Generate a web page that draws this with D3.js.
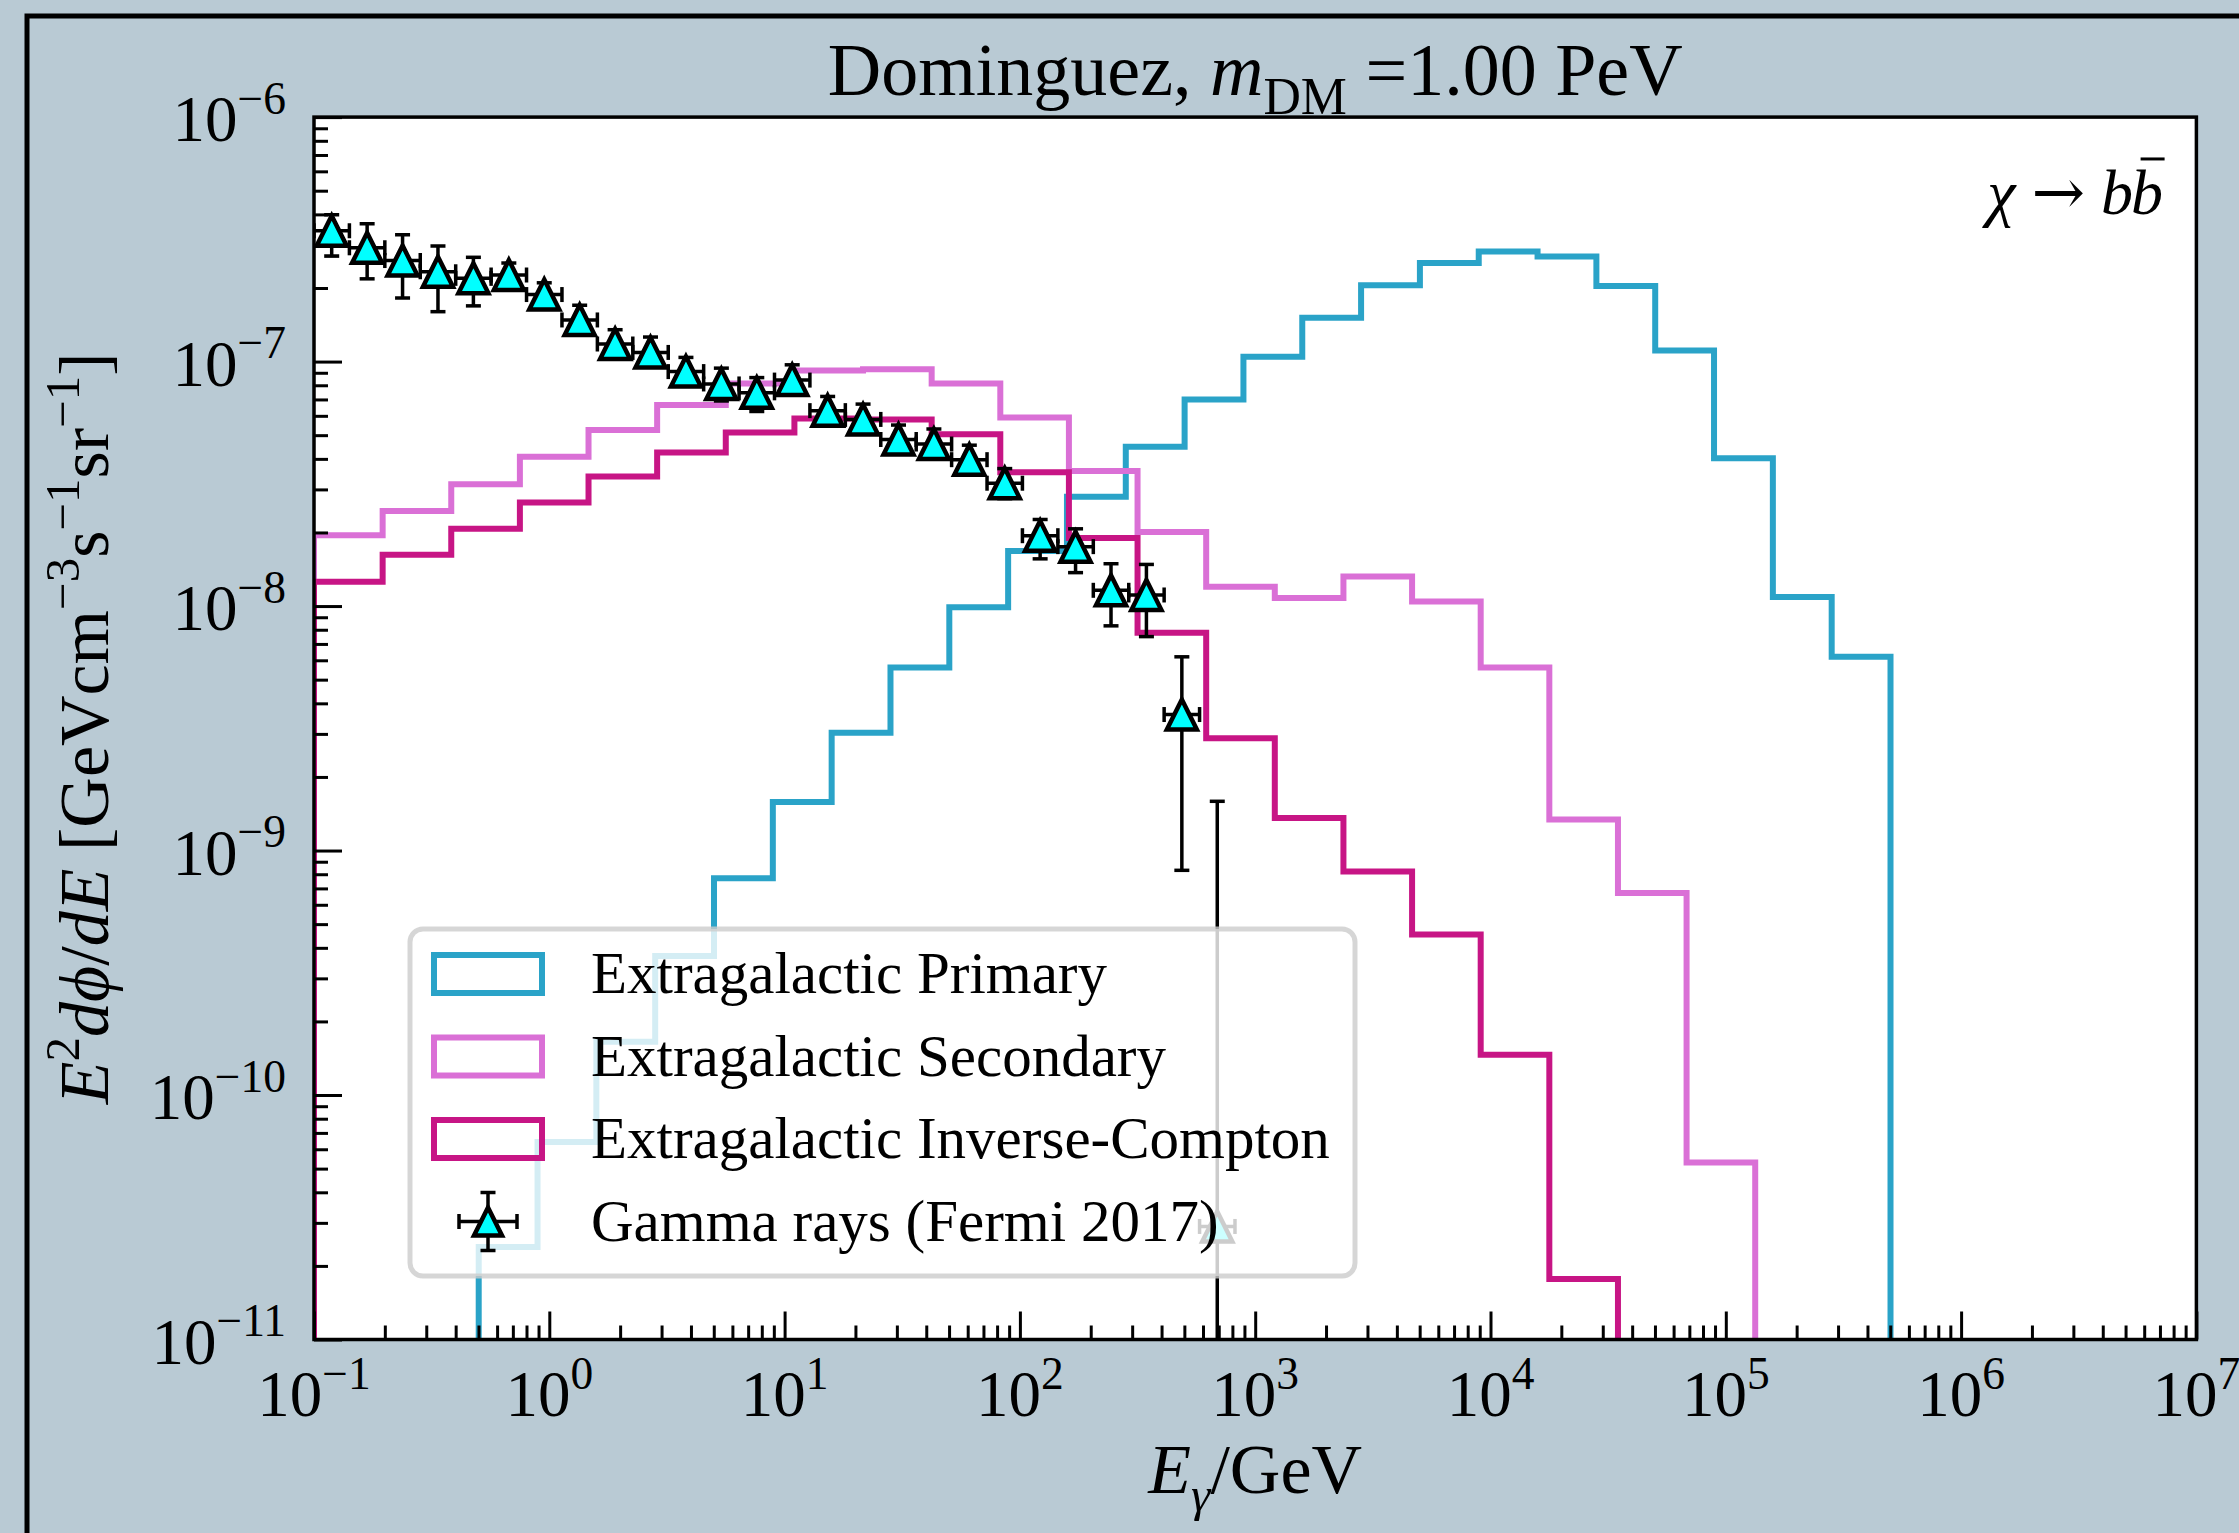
<!DOCTYPE html>
<html>
<head>
<meta charset="utf-8">
<script src="https://cdn.jsdelivr.net/npm/d3@7"></script>
<style>
  html, body { margin: 0; padding: 0; background: #b9cad4; }
  svg { display: block; }
  text { font-family: "Liberation Serif", "Times New Roman", serif; fill: #000; }
</style>
</head>
<body>
<svg id="chart" width="2239" height="1533"></svg>
<script>
// ---------------- data ----------------
// Extragalactic primary spectrum: log10 of bin edges (GeV) and E^2 dphi/dE per bin
const primaryEdgesLog = [-0.3, -0.05, 0.2, 0.45, 0.7, 0.95, 1.2, 1.45, 1.7, 1.95, 2.2, 2.45, 2.7,
                         2.95, 3.2, 3.45, 3.7, 3.95, 4.2, 4.45, 4.7, 4.95, 5.2, 5.45, 5.7];
const primaryValues = [2.39e-11, 6.43e-11, 1.65e-10, 3.70e-10, 7.7e-10, 1.58e-9, 3.03e-9, 5.6e-9,
                       9.9e-9, 1.68e-8, 2.80e-8, 4.48e-8, 7.0e-8, 1.047e-7, 1.51e-7, 2.05e-7,
                       2.53e-7, 2.82e-7, 2.69e-7, 2.04e-7, 1.11e-7, 4.02e-8, 1.09e-8, 6.2e-9];

// Cascade spectra (secondary and inverse-Compton) share one energy grid
const cascadeEdgesLog = [-1, -0.7083, -0.4167, -0.125, 0.1667, 0.4583, 0.75, 1.0417, 1.3333, 1.625,
                         1.9167, 2.2083, 2.5, 2.7917, 3.0833, 3.375, 3.6667, 3.9583, 4.25, 4.5417,
                         4.8333, 5.125];
const secondaryValues = [1.95e-8, 2.45e-8, 3.15e-8, 4.08e-8, 5.25e-8, 6.64e-8, 8.13e-8, 9.2e-8,
                         9.3e-8, 8.13e-8, 5.9e-8, 3.57e-8, 2.01e-8, 1.20e-8, 1.08e-8, 1.32e-8,
                         1.045e-8, 5.6e-9, 1.34e-9, 6.7e-10, 5.3e-11];
const inverseComptonValues = [1.256e-8, 1.62e-8, 2.07e-8, 2.65e-8, 3.39e-8, 4.25e-8, 5.13e-8, 5.85e-8,
                              5.8e-8, 5.04e-8, 3.53e-8, 1.90e-8, 7.78e-9, 2.88e-9, 1.36e-9, 8.2e-10,
                              4.53e-10, 1.46e-10, 1.77e-11];

// Fermi-LAT isotropic gamma-ray background (2017): energy bins (GeV) and fluxes
const fermiELow  = [0.1, 0.1414, 0.2, 0.2829, 0.4001, 0.5659, 0.8003, 1.1319, 1.6008, 2.264, 3.202,
                    4.529, 6.405, 9.059, 12.81, 18.12, 25.63, 36.25, 51.26, 72.50, 102.5, 145.0,
                    205.1, 290.1, 410.2, 580.2];
const fermiEHigh = [0.1414, 0.2, 0.2829, 0.4001, 0.5659, 0.8003, 1.1319, 1.6008, 2.264, 3.202, 4.529,
                    6.405, 9.059, 12.81, 18.12, 25.63, 36.25, 51.26, 72.50, 102.5, 145.0, 205.1,
                    290.1, 410.2, 580.2, 820.5];
const fermiECenter = [0.1189, 0.1682, 0.2379, 0.3364, 0.4758, 0.6730, 0.9518, 1.346, 1.904, 2.692,
                      3.808, 5.386, 7.617, 10.77, 15.24, 21.55, 30.48, 43.10, 60.96, 86.21, 121.9,
                      172.4, 243.9, 344.9, 487.8, 689.9];
const fermiFlux  = [3.43e-7, 2.92e-7, 2.59e-7, 2.33e-7, 2.19e-7, 2.26e-7, 1.88e-7, 1.48e-7, 1.18e-7,
                    1.09e-7, 9.1e-8, 8.1e-8, 7.45e-8, 8.4e-8, 6.3e-8, 5.8e-8, 4.8e-8, 4.6e-8, 3.97e-8,
                    3.18e-8, 1.94e-8, 1.75e-8, 1.16e-8, 1.11e-8, 3.6e-9, 2.9e-11];
const fermiFluxLow  = [2.70e-7, 2.18e-7, 1.82e-7, 1.60e-7, 1.69e-7, 2.0e-7, 1.7e-7, 1.3e-7, 1.04e-7,
                       0.95e-7, 8.0e-8, 6.9e-8, 6.25e-8, 7.3e-8, 5.5e-8, 5.1e-8, 4.2e-8, 4.0e-8, 3.45e-8,
                       2.75e-8, 1.56e-8, 1.37e-8, 8.3e-9, 7.5e-9, 8.3e-10, null];
const fermiFluxHigh = [3.99e-7, 3.66e-7, 3.30e-7, 2.97e-7, 2.67e-7, 2.53e-7, 2.1e-7, 1.70e-7, 1.35e-7,
                       1.26e-7, 1.04e-7, 9.4e-8, 8.6e-8, 9.7e-8, 7.2e-8, 6.7e-8, 5.5e-8, 5.3e-8, 4.55e-8,
                       3.65e-8, 2.26e-8, 2.07e-8, 1.49e-8, 1.48e-8, 6.2e-9, 1.59e-9];

// Axis ticks
const xMajorTicks = [1e-1, 1e0, 1e1, 1e2, 1e3, 1e4, 1e5, 1e6, 1e7];
const xTickExponents = ["\u22121", "0", "1", "2", "3", "4", "5", "6", "7"];
const yMajorTicks = [1e-11, 1e-10, 1e-9, 1e-8, 1e-7, 1e-6];
const yTickExponents = ["\u221211", "\u221210", "\u22129", "\u22128", "\u22127", "\u22126"];

const seriesColors = { primary: "#2aa3c8", secondary: "#da70d6", ic: "#c71585" };
const legendLabels = ["Extragalactic Primary", "Extragalactic Secondary",
                      "Extragalactic Inverse-Compton", "Gamma rays (Fermi 2017)"];

// ---------------- layout ----------------
const W = 2239, H = 1533;
const plot = { left: 314, right: 2196.4, top: 117.1, bottom: 1339.5 };
const FONT_TICK = 65, FONT_LABEL = 70, FONT_TITLE = 74, FONT_LEGEND = 59, FONT_NOTE = 64;
const STEP_W = 6;

const svg = d3.select("#chart");

const x = d3.scaleLog().domain([1e-1, 1e7]).range([plot.left, plot.right]);
const y = d3.scaleLog().domain([1e-11, 1e-6]).range([plot.bottom, plot.top]);

// rich text helper: parts = [{t, sup, sub, it, font}]
function rich(sel, parts, size) {
  let shift = 0;
  parts.forEach(p => {
    const target = p.sup ? -0.42 * size : (p.sub ? 0.25 * size : 0);
    const ts = sel.append("tspan").text(p.t).attr("dy", target - shift);
    if (p.sup || p.sub) ts.attr("font-size", size * 0.7);
    if (p.it) ts.attr("font-style", "italic");
    if (p.font) ts.attr("font-family", p.font);
    shift = target;
  });
  return sel;
}

// figure frame
svg.append("rect")
  .attr("x", 27).attr("y", 16).attr("width", W).attr("height", H)
  .attr("fill", "#b9cad4").attr("stroke", "#000").attr("stroke-width", 5);

// plot background
svg.append("rect")
  .attr("x", plot.left).attr("y", plot.top)
  .attr("width", plot.right - plot.left).attr("height", plot.bottom - plot.top)
  .attr("fill", "#fff");

svg.append("defs").append("clipPath").attr("id", "plotClip")
  .append("rect")
  .attr("x", plot.left).attr("y", plot.top)
  .attr("width", plot.right - plot.left).attr("height", plot.bottom - plot.top);

const data = svg.append("g").attr("clip-path", "url(#plotClip)");

// ---------------- step histograms ----------------
const yFloor = y(1e-12);
function stepPoints(edgesLog, values) {
  const pts = [[x(Math.pow(10, edgesLog[0])), yFloor]];
  values.forEach((v, i) => {
    pts.push([x(Math.pow(10, edgesLog[i])), y(v)]);
    pts.push([x(Math.pow(10, edgesLog[i + 1])), y(v)]);
  });
  pts.push([x(Math.pow(10, edgesLog[values.length])), yFloor]);
  return pts;
}
const line = d3.line();
const series = [
  { edges: primaryEdgesLog, values: primaryValues, color: seriesColors.primary },
  { edges: cascadeEdgesLog, values: secondaryValues, color: seriesColors.secondary },
  { edges: cascadeEdgesLog, values: inverseComptonValues, color: seriesColors.ic }
];
series.forEach(s => {
  data.append("path")
    .attr("d", line(stepPoints(s.edges, s.values)))
    .attr("fill", "none")
    .attr("stroke", s.color)
    .attr("stroke-width", STEP_W)
    .attr("stroke-linejoin", "miter");
});

// ---------------- Fermi points ----------------
const fermi = fermiFlux.map((f, i) => ({
  e: fermiECenter[i], eLo: fermiELow[i], eHi: fermiEHigh[i],
  f: f, fLo: fermiFluxLow[i], fHi: fermiFluxHigh[i]
}));
const CAP = 7.5, ERR_W = 3.5, MARK = 30, MARK_W = 4.5;
const errG = data.append("g").attr("stroke", "#000").attr("stroke-width", ERR_W).attr("fill", "none");
fermi.forEach(d => {
  const cx = x(d.e), cy = y(d.f);
  const yHi = y(d.fHi);
  const yLo = d.fLo === null ? yFloor : y(d.fLo);
  const xl = x(d.eLo), xr = x(d.eHi);
  // vertical error
  errG.append("line").attr("x1", cx).attr("x2", cx).attr("y1", yHi).attr("y2", yLo);
  errG.append("line").attr("x1", cx - CAP).attr("x2", cx + CAP).attr("y1", yHi).attr("y2", yHi);
  if (d.fLo !== null)
    errG.append("line").attr("x1", cx - CAP).attr("x2", cx + CAP).attr("y1", yLo).attr("y2", yLo);
  // horizontal error
  errG.append("line").attr("x1", xl).attr("x2", xr).attr("y1", cy).attr("y2", cy);
  errG.append("line").attr("x1", xl).attr("x2", xl).attr("y1", cy - CAP).attr("y2", cy + CAP);
  errG.append("line").attr("x1", xr).attr("x2", xr).attr("y1", cy - CAP).attr("y2", cy + CAP);
});
function triangle(s) {
  return `M0,${-s / 2}L${s / 2},${s / 2}L${-s / 2},${s / 2}Z`;
}
data.append("g").selectAll("path").data(fermi).join("path")
  .attr("transform", d => `translate(${x(d.e)},${y(d.f)})`)
  .attr("d", triangle(MARK))
  .attr("fill", "#00ffff").attr("stroke", "#000")
  .attr("stroke-width", MARK_W).attr("stroke-linejoin", "miter");

// ---------------- axes ----------------
function minorTicks(majors) {
  const out = [];
  for (let i = 0; i < majors.length - 1; i++)
    for (let k = 2; k <= 9; k++) out.push(majors[i] * k);
  return out;
}
function styleAxis(g) {
  g.select(".domain").remove();
  g.selectAll(".tick line").attr("stroke", "#000").attr("stroke-width", 3);
  g.selectAll(".tick text").remove();
}
svg.append("g").attr("transform", `translate(0,${plot.bottom})`)
  .call(d3.axisBottom(x).tickValues(xMajorTicks).tickSize(-28).tickFormat(() => ""))
  .call(styleAxis);
svg.append("g").attr("transform", `translate(0,${plot.bottom})`)
  .call(d3.axisBottom(x).tickValues(minorTicks(xMajorTicks)).tickSize(-14).tickFormat(() => ""))
  .call(styleAxis);
svg.append("g").attr("transform", `translate(${plot.left},0)`)
  .call(d3.axisLeft(y).tickValues(yMajorTicks).tickSize(-28).tickFormat(() => ""))
  .call(styleAxis);
svg.append("g").attr("transform", `translate(${plot.left},0)`)
  .call(d3.axisLeft(y).tickValues(minorTicks(yMajorTicks)).tickSize(-14).tickFormat(() => ""))
  .call(styleAxis);

// tick labels
xMajorTicks.forEach((v, i) => {
  const t = svg.append("text").attr("x", x(v)).attr("y", 1416)
    .attr("text-anchor", "middle").attr("font-size", FONT_TICK);
  rich(t, [{ t: "10" }, { t: xTickExponents[i], sup: true }], FONT_TICK);
});
yMajorTicks.forEach((v, i) => {
  const t = svg.append("text").attr("x", 286).attr("y", y(v) + 24)
    .attr("text-anchor", "end").attr("font-size", FONT_TICK);
  rich(t, [{ t: "10" }, { t: yTickExponents[i], sup: true }], FONT_TICK);
});

// spines
svg.append("rect")
  .attr("x", plot.left).attr("y", plot.top)
  .attr("width", plot.right - plot.left).attr("height", plot.bottom - plot.top)
  .attr("fill", "none").attr("stroke", "#000").attr("stroke-width", 3.5);

// ---------------- legend ----------------
const lg = svg.append("g");
lg.append("rect")
  .attr("x", 410).attr("y", 929).attr("width", 945).attr("height", 347)
  .attr("rx", 13).attr("ry", 13)
  .attr("fill", "#fff").attr("fill-opacity", 0.8)
  .attr("stroke", "#cccccc").attr("stroke-opacity", 0.8).attr("stroke-width", 5);
const rowY = [974, 1056.5, 1139, 1221.5];
const patchColors = [seriesColors.primary, seriesColors.secondary, seriesColors.ic];
patchColors.forEach((c, i) => {
  lg.append("rect")
    .attr("x", 434).attr("y", rowY[i] - 19).attr("width", 108).attr("height", 38)
    .attr("fill", "none").attr("stroke", c).attr("stroke-width", STEP_W);
});
{
  const cx = 488, cy = rowY[3];
  const eg = lg.append("g").attr("stroke", "#000").attr("stroke-width", ERR_W);
  eg.append("line").attr("x1", cx - 29).attr("x2", cx + 29).attr("y1", cy).attr("y2", cy);
  eg.append("line").attr("x1", cx - 29).attr("x2", cx - 29).attr("y1", cy - CAP).attr("y2", cy + CAP);
  eg.append("line").attr("x1", cx + 29).attr("x2", cx + 29).attr("y1", cy - CAP).attr("y2", cy + CAP);
  eg.append("line").attr("x1", cx).attr("x2", cx).attr("y1", cy - 29).attr("y2", cy + 29);
  eg.append("line").attr("x1", cx - CAP).attr("x2", cx + CAP).attr("y1", cy - 29).attr("y2", cy - 29);
  eg.append("line").attr("x1", cx - CAP).attr("x2", cx + CAP).attr("y1", cy + 29).attr("y2", cy + 29);
  lg.append("path").attr("transform", `translate(${cx},${cy})`).attr("d", triangle(28))
    .attr("fill", "#00ffff").attr("stroke", "#000").attr("stroke-width", MARK_W);
}
legendLabels.forEach((lab, i) => {
  lg.append("text").attr("x", 591).attr("y", rowY[i] + 19)
    .attr("font-size", FONT_LEGEND).text(lab);
});

// ---------------- titles and labels ----------------
const title = svg.append("text").attr("x", (plot.left + plot.right) / 2).attr("y", 95)
  .attr("text-anchor", "middle").attr("font-size", FONT_TITLE);
rich(title, [{ t: "Dominguez, " }, { t: "m", it: true }, { t: "DM", sub: true }, { t: " =1.00 PeV" }], FONT_TITLE);

const xl = svg.append("text").attr("x", (plot.left + plot.right) / 2).attr("y", 1493)
  .attr("text-anchor", "middle").attr("font-size", FONT_LABEL);
rich(xl, [{ t: "E", it: true }, { t: "\u03b3", sub: true, it: true }, { t: "/GeV" }], FONT_LABEL);

const yl = svg.append("text")
  .attr("transform", `translate(108,${(plot.top + plot.bottom) / 2}) rotate(-90)`)
  .attr("text-anchor", "middle").attr("font-size", FONT_LABEL);
rich(yl, [
  { t: "E", it: true }, { t: "2", sup: true }, { t: "d\u03d5", it: true }, { t: "/" },
  { t: "dE", it: true }, { t: " [GeVcm" }, { t: "\u22123", sup: true }, { t: "s" },
  { t: "\u22121", sup: true }, { t: "sr" }, { t: "\u22121", sup: true }, { t: "]" }
], FONT_LABEL);

// channel annotation: chi -> b bbar
{
  const right = 2163, base = 214;
  const bb = svg.append("text").attr("x", right).attr("y", base).attr("text-anchor", "end")
    .attr("font-size", FONT_NOTE).attr("font-style", "italic").text("b");
  const box = bb.node().getBBox();
  svg.append("line")
    .attr("x1", box.x + box.width * 0.3).attr("x2", box.x + box.width * 1.05)
    .attr("y1", base - 0.86 * FONT_NOTE).attr("y2", base - 0.86 * FONT_NOTE)
    .attr("stroke", "#000").attr("stroke-width", 3);
  const ann = svg.append("text").attr("x", box.x + 2).attr("y", base).attr("text-anchor", "end")
    .attr("font-size", FONT_NOTE);
  rich(ann, [{ t: "\u03c7", it: true }, { t: " " }, { t: "\u2192", font: "DejaVu Serif" },
             { t: " " }, { t: "b", it: true }], FONT_NOTE);
}
</script>
</body>
</html>
